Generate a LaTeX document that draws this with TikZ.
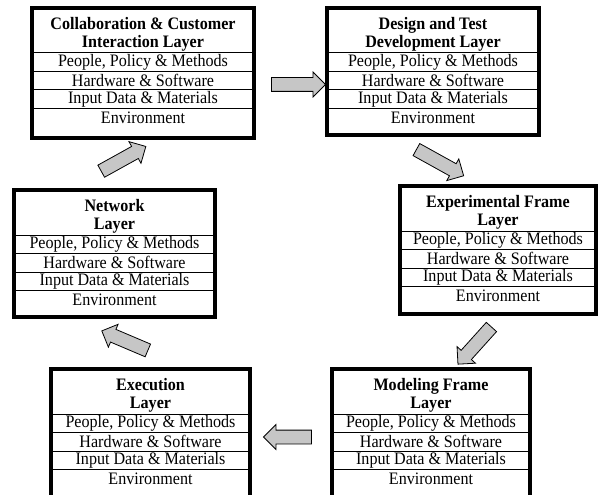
\documentclass[tikz,border=0pt]{standalone}
\usepackage{fontspec}
\setmainfont[FakeStretch=0.92]{Liberation Serif}
\usetikzlibrary{positioning, shapes.arrows}

\tikzset{
  layer/.style={draw, line width=4pt, inner sep=0pt, outer sep=0pt},
  head/.style={minimum height=37pt, inner sep=0pt, outer sep=0pt, align=center,
    font=\fontsize{17.5}{18}\selectfont\bfseries},
  part/.style={draw, line width=1pt, minimum height=18.5pt, inner sep=0pt, outer sep=0pt,
    font=\fontsize{17.5}{18}\selectfont},
  lastpart/.style={part, draw=none},
  flow/.style={single arrow, draw, fill=gray!45, line width=0.8pt, inner xsep=0pt, inner ysep=6.5pt,
    single arrow head extend=5.5pt, minimum width=24pt, minimum height=54pt}
}

\begin{document}
\begin{tikzpicture}[x=1pt, y=1pt]
  \useasboundingbox (0,0) rectangle (600,-495);

  % collaboration layer
  \begin{scope}[nodes={minimum width=222pt}]
    \node[layer, minimum height=130pt] (collab) at (143,-73) {};
    \node[head, below=8pt of collab.north] (collabT) {Collaboration \& Customer\\Interaction Layer};
    \node[part, below=0pt of collabT] (collab1) {People, Policy \& Methods};
    \node[part, below=0pt of collab1] (collab2) {Hardware \& Software};
    \node[part, below=0pt of collab2] (collab3) {Input Data \& Materials};
    \node[lastpart, below=0pt of collab3] (collab4) {Environment};
  \end{scope}

  % design layer
  \begin{scope}[nodes={minimum width=212pt}]
    \node[layer, minimum height=127pt] (design) at (433,-71.5) {};
    \node[head, below=8pt of design.north] (designT) {Design and Test\\Development Layer};
    \node[part, below=0pt of designT] (design1) {People, Policy \& Methods};
    \node[part, below=0pt of design1] (design2) {Hardware \& Software};
    \node[part, below=0pt of design2] (design3) {Input Data \& Materials};
    \node[lastpart, below=0pt of design3] (design4) {Environment};
  \end{scope}

  % experimental frame layer
  \begin{scope}[nodes={minimum width=196pt}]
    \node[layer, minimum height=128pt] (exper) at (498,-250) {};
    \node[head, below=8pt of exper.north] (experT) {Experimental Frame\\Layer};
    \node[part, below=0pt of experT] (exper1) {People, Policy \& Methods};
    \node[part, below=0pt of exper1] (exper2) {Hardware \& Software};
    \node[part, below=0pt of exper2] (exper3) {Input Data \& Materials};
    \node[lastpart, below=0pt of exper3] (exper4) {Environment};
  \end{scope}

  % network layer
  \begin{scope}[nodes={minimum width=201pt}]
    \node[layer, minimum height=127pt] (net) at (114.5,-253.5) {};
    \node[head, below=8pt of net.north] (netT) {Network\\Layer};
    \node[part, below=0pt of netT] (net1) {People, Policy \& Methods};
    \node[part, below=0pt of net1] (net2) {Hardware \& Software};
    \node[part, below=0pt of net2] (net3) {Input Data \& Materials};
    \node[lastpart, below=0pt of net3] (net4) {Environment};
  \end{scope}

  % execution layer
  \begin{scope}[nodes={minimum width=199pt}]
    \node[layer, minimum height=130pt] (exec) at (150.5,-434) {};
    \node[head, below=8pt of exec.north] (execT) {Execution\\Layer};
    \node[part, below=0pt of execT] (exec1) {People, Policy \& Methods};
    \node[part, below=0pt of exec1] (exec2) {Hardware \& Software};
    \node[part, below=0pt of exec2] (exec3) {Input Data \& Materials};
    \node[lastpart, below=0pt of exec3] (exec4) {Environment};
  \end{scope}

  % modeling frame layer
  \begin{scope}[nodes={minimum width=198pt}]
    \node[layer, minimum height=130pt] (model) at (431,-434) {};
    \node[head, below=8pt of model.north] (modelT) {Modeling Frame\\Layer};
    \node[part, below=0pt of modelT] (model1) {People, Policy \& Methods};
    \node[part, below=0pt of model1] (model2) {Hardware \& Software};
    \node[part, below=0pt of model2] (model3) {Input Data \& Materials};
    \node[lastpart, below=0pt of model3] (model4) {Environment};
  \end{scope}

  % flow between the layers
  \node[flow, rotate=0] (collab-design) at (295,-84.5) {};
  \node[flow, rotate=-29] (design-exper) at (437,-161) {};
  \node[flow, rotate=-132, minimum height=50pt] (exper-model) at (477,-343) {};
  \node[flow, rotate=180, minimum height=48pt] (model-exec) at (291,-437) {};
  \node[flow, rotate=157, minimum height=50pt] (exec-net) at (128,-342) {};
  \node[flow, rotate=29, minimum height=51pt] (net-collab) at (120.5,-160.5) {};
\end{tikzpicture}
\end{document}
